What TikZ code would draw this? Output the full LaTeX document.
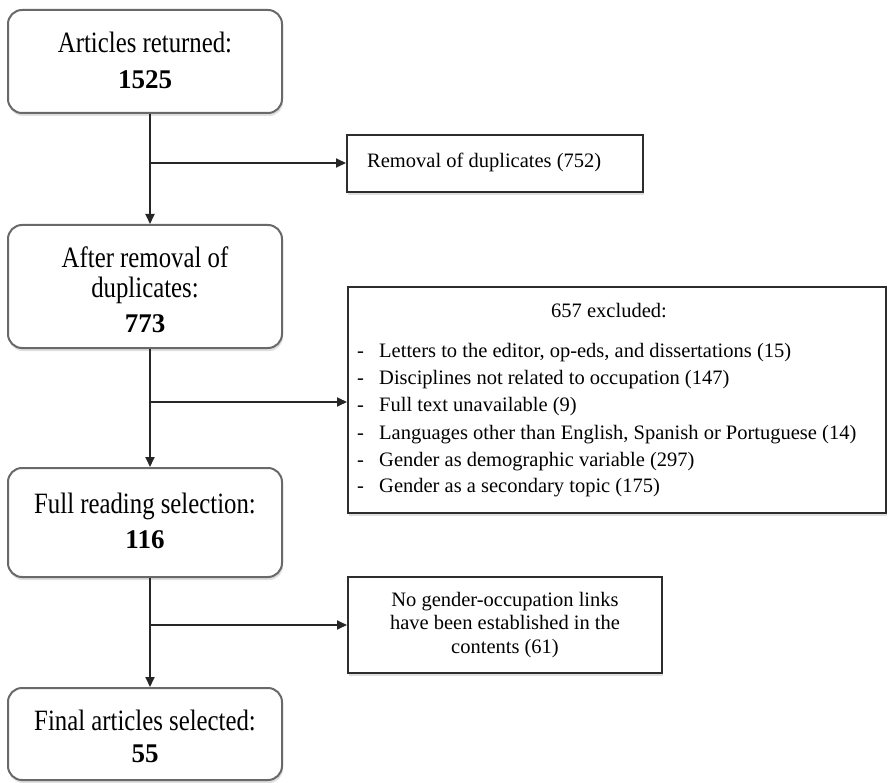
\documentclass[tikz,border=0pt]{standalone}
\usepackage{fontspec}
\setmainfont{Liberation Serif}
\newfontfamily\bigf{Liberation Serif}[FakeStretch=0.84]
\usetikzlibrary{arrows.meta,shadows}
\definecolor{rborder}{RGB}{105,105,105}
\definecolor{sborder}{RGB}{45,45,45}
\tikzset{
  rbox/.style={draw=rborder, line width=2pt, rounded corners=14pt, fill=white,
    drop shadow={shadow xshift=1pt, shadow yshift=-3pt, opacity=0.25}},
  sbox/.style={draw=sborder, line width=2pt, fill=white,
    drop shadow={shadow xshift=1pt, shadow yshift=-3pt, opacity=0.25}},
  big/.style={font=\bigf\fontsize{29.5}{34}\selectfont, inner sep=0pt, anchor=base},
  num/.style={font=\fontsize{27}{32}\selectfont\bfseries, inner sep=0pt, anchor=base},
  small/.style={font=\fontsize{20.5}{24}\selectfont, inner sep=0pt},
  arr/.style={line width=1.8pt, draw=black!85, -{Triangle[length=10pt,width=9pt]}},
}
\begin{document}
\begin{tikzpicture}[x=1pt,y=-1pt]
\useasboundingbox (0,0) rectangle (888,783);
% boxes
\node[rbox, minimum width=274pt, minimum height=103pt] (b1) at (145,61.5) {};
\node[sbox, minimum width=296pt, minimum height=57pt] (b2) at (495,163.5) {};
\node[rbox, minimum width=274pt, minimum height=123pt] (b3) at (145,286.5) {};
\node[sbox, minimum width=538pt, minimum height=226pt] (b657) at (617,400) {};
\node[rbox, minimum width=274pt, minimum height=109pt] (b4) at (145,522.5) {};
\node[sbox, minimum width=314pt, minimum height=96pt] (b61) at (505,625) {};
\node[rbox, minimum width=274pt, minimum height=92pt] (b5) at (145,734) {};
% texts
\node[big] (t1a) at (145,53) {Articles returned:};
\node[num] (t1b) at (145,89) {1525};
\node[small, anchor=base west] (t2) at (367,168) {Removal of duplicates (752)};
\node[big] (t3a) at (145,268) {After removal of};
\node[big] (t3b) at (145,298) {duplicates:};
\node[num] (t3c) at (145,333) {773};
\node[small, anchor=base] (t657) at (609,317) {657 excluded:};
\node[small, anchor=base west] (l1) at (357,357) {\makebox[22pt][l]{-}Letters to the editor, op-eds, and dissertations (15)};
\node[small, anchor=base west] (l2) at (357,384) {\makebox[22pt][l]{-}Disciplines not related to occupation (147)};
\node[small, anchor=base west] (l3) at (357,411) {\makebox[22pt][l]{-}Full text unavailable (9)};
\node[small, anchor=base west] (l4) at (357,439) {\makebox[22pt][l]{-}Languages other than English, Spanish or Portuguese (14)};
\node[small, anchor=base west] (l5) at (357,466) {\makebox[22pt][l]{-}Gender as demographic variable (297)};
\node[small, anchor=base west] (l6) at (357,492) {\makebox[22pt][l]{-}Gender as a secondary topic (175)};
\node[big] (t4a) at (145,513) {Full reading selection:};
\node[num] (t4b) at (145,548) {116};
\node[small, anchor=base] (t61a) at (505,606) {No gender-occupation links};
\node[small, anchor=base] (t61b) at (505,629) {have been established in the};
\node[small, anchor=base] (t61c) at (505,653) {contents (61)};
\node[big] (t5a) at (145,730) {Final articles selected:};
\node[num] (t5b) at (145,762) {55};
% junctions
\coordinate (j1) at (150,163);
\coordinate (j2) at (150,402);
\coordinate (j3) at (150,625);
% connectors
\draw[arr] (b1.south -| j1) -- (b3.north -| j1);
\draw[arr] (j1) -- (b2.west |- j1);
\draw[arr] (b3.south -| j2) -- (b4.north -| j2);
\draw[arr] (j2) -- (b657.west |- j2);
\draw[arr] (b4.south -| j3) -- (b5.north -| j3);
\draw[arr] (j3) -- (b61.west |- j3);
\end{tikzpicture}
\end{document}
